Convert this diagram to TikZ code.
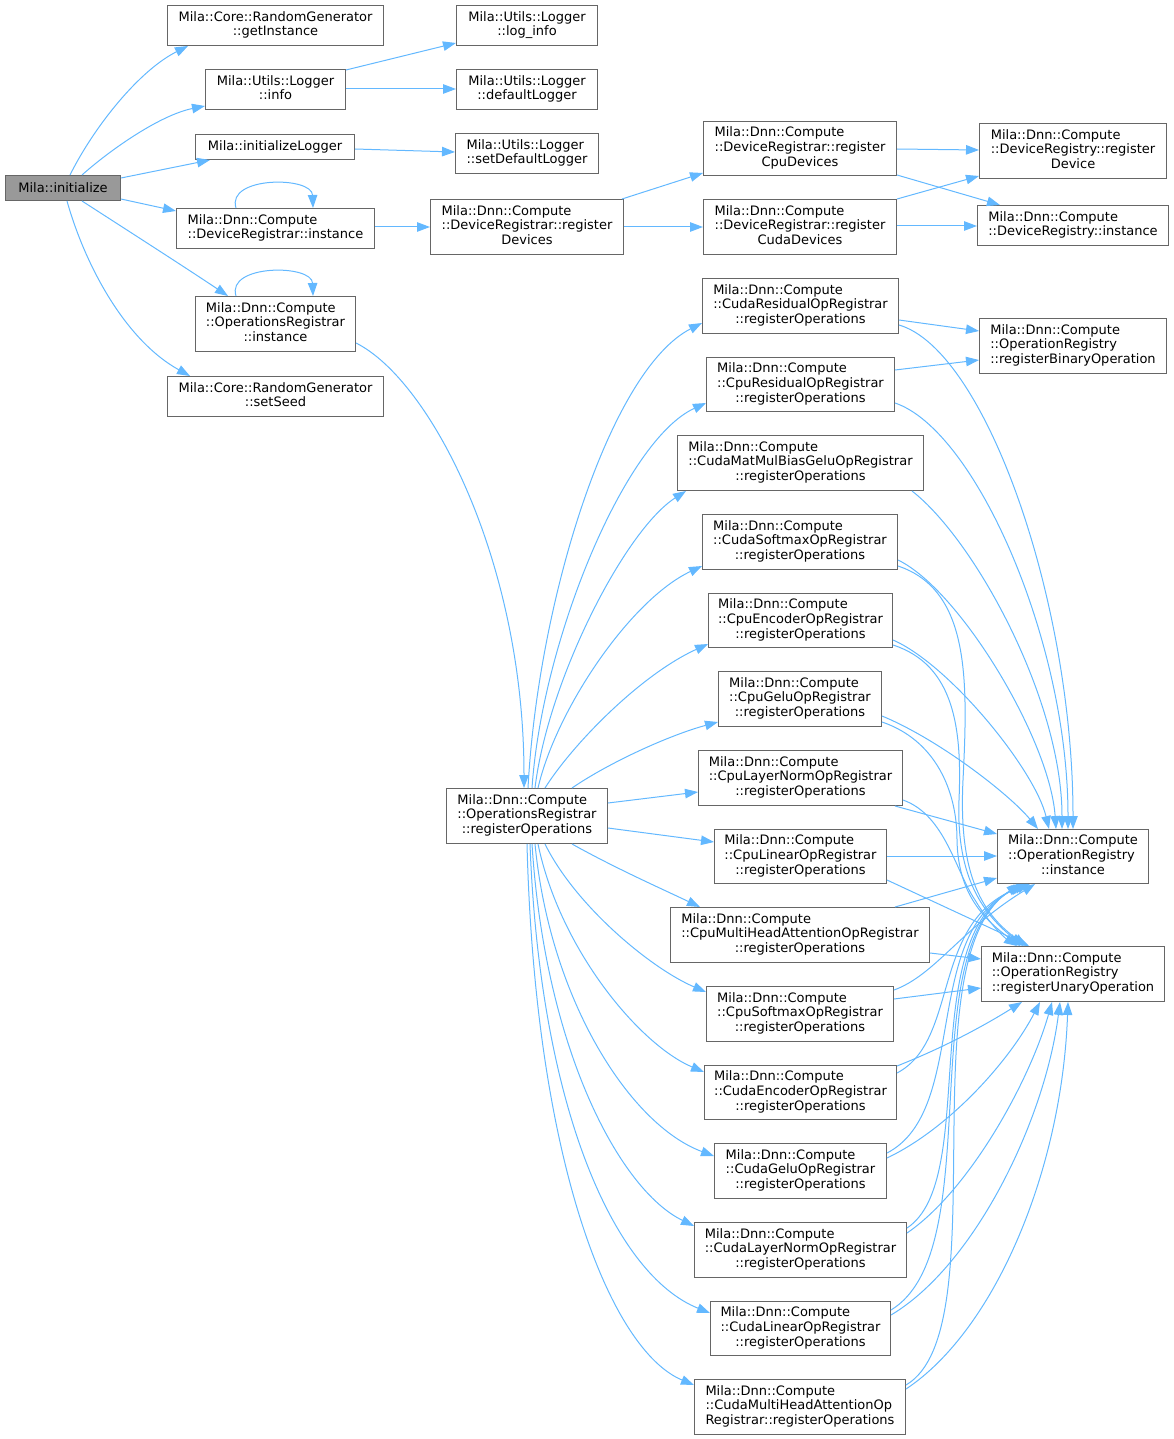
\documentclass[tikz,border=0pt]{standalone}
\usepackage{fontspec}
\setmainfont{DejaVu Sans}
\usetikzlibrary{arrows.meta}
\definecolor{edgeblue}{HTML}{63B8FF}
\definecolor{boxborder}{HTML}{666666}
\definecolor{rootfill}{HTML}{999999}
\newcommand\LC[2]{\begin{tabular}{@{}l@{}}#1\\\multicolumn{1}{@{}c@{}}{#2}\end{tabular}}
\newcommand\LL[2]{\begin{tabular}{@{}l@{}}#1\\#2\end{tabular}}
\newcommand\LLC[3]{\begin{tabular}{@{}l@{}}#1\\#2\\\multicolumn{1}{@{}c@{}}{#3}\end{tabular}}
\begin{document}
\begin{tikzpicture}[x=1pt,y=-1pt,
  font=\fontsize{13}{14.7}\selectfont,
  box/.style={rectangle,draw=boxborder,line width=1pt,fill=white,inner sep=0pt,anchor=north west},
  cg/.style={draw=edgeblue,line width=1pt,-{Triangle[length=13pt,width=9.5pt]}}]
\useasboundingbox (0,0) rectangle (1173,1439);
% ---------- nodes ----------
\node[box,fill=rootfill,minimum width=115pt,minimum height=25pt] (init) at (5,175) {Mila::initialize};
\node[box,minimum width=216pt,minimum height=40pt] (getinst) at (167,5) {\LC{Mila::Core::RandomGenerator}{::getInstance}};
\node[box,minimum width=140pt,minimum height=40pt] (info) at (205,69) {\LC{Mila::Utils::Logger}{::info}};
\node[box,minimum width=159pt,minimum height=25pt] (initlog) at (195,134) {Mila::initializeLogger};
\node[box,minimum width=198pt,minimum height=40pt] (devinst) at (176,208) {\LL{Mila::Dnn::Compute}{::DeviceRegistrar::instance}};
\node[box,minimum width=160pt,minimum height=55pt] (opsinst) at (195,296) {\LLC{Mila::Dnn::Compute}{::OperationsRegistrar}{::instance}};
\node[box,minimum width=216pt,minimum height=40pt] (setseed) at (167,376) {\LC{Mila::Core::RandomGenerator}{::setSeed}};
\node[box,minimum width=141pt,minimum height=40pt] (loginfo) at (456,5) {\LC{Mila::Utils::Logger}{::log\_info}};
\node[box,minimum width=141pt,minimum height=40pt] (deflog) at (456,69) {\LC{Mila::Utils::Logger}{::defaultLogger}};
\node[box,minimum width=143pt,minimum height=40pt] (setdeflog) at (455,133) {\LC{Mila::Utils::Logger}{::setDefaultLogger}};
\node[box,minimum width=193pt,minimum height=55pt] (regdev) at (430,199) {\LLC{Mila::Dnn::Compute}{::DeviceRegistrar::register}{Devices}};
\node[box,minimum width=193pt,minimum height=54pt] (cpudev) at (703,121) {\LLC{Mila::Dnn::Compute}{::DeviceRegistrar::register}{CpuDevices}};
\node[box,minimum width=193pt,minimum height=55pt] (cudadev) at (703,199) {\LLC{Mila::Dnn::Compute}{::DeviceRegistrar::register}{CudaDevices}};
\node[box,minimum width=187pt,minimum height=55pt] (regdevice) at (979,123) {\LLC{Mila::Dnn::Compute}{::DeviceRegistry::register}{Device}};
\node[box,minimum width=191pt,minimum height=40pt] (devreginst) at (977,205) {\LL{Mila::Dnn::Compute}{::DeviceRegistry::instance}};
\node[box,minimum width=187pt,minimum height=55pt] (regbin) at (979,318) {\LLC{Mila::Dnn::Compute}{::OperationRegistry}{::registerBinaryOperation}};
\node[box,minimum width=161pt,minimum height=55pt] (regops) at (446,788) {\LLC{Mila::Dnn::Compute}{::OperationsRegistrar}{::registerOperations}};
\node[box,minimum width=196pt,minimum height=55pt] (r1) at (702,278) {\LLC{Mila::Dnn::Compute}{::CudaResidualOpRegistrar}{::registerOperations}};
\node[box,minimum width=188pt,minimum height=54pt] (r2) at (706,357) {\LLC{Mila::Dnn::Compute}{::CpuResidualOpRegistrar}{::registerOperations}};
\node[box,minimum width=246pt,minimum height=55pt] (r3) at (677,435) {\LLC{Mila::Dnn::Compute}{::CudaMatMulBiasGeluOpRegistrar}{::registerOperations}};
\node[box,minimum width=195pt,minimum height=55pt] (r4) at (702,514) {\LLC{Mila::Dnn::Compute}{::CudaSoftmaxOpRegistrar}{::registerOperations}};
\node[box,minimum width=184pt,minimum height=54pt] (r5) at (708,593) {\LLC{Mila::Dnn::Compute}{::CpuEncoderOpRegistrar}{::registerOperations}};
\node[box,minimum width=163pt,minimum height=55pt] (r6) at (718,671) {\LLC{Mila::Dnn::Compute}{::CpuGeluOpRegistrar}{::registerOperations}};
\node[box,minimum width=204pt,minimum height=55pt] (r7) at (698,750) {\LLC{Mila::Dnn::Compute}{::CpuLayerNormOpRegistrar}{::registerOperations}};
\node[box,minimum width=172pt,minimum height=54pt] (r8) at (714,829) {\LLC{Mila::Dnn::Compute}{::CpuLinearOpRegistrar}{::registerOperations}};
\node[box,minimum width=259pt,minimum height=55pt] (r9) at (670,907) {\LLC{Mila::Dnn::Compute}{::CpuMultiHeadAttentionOpRegistrar}{::registerOperations}};
\node[box,minimum width=187pt,minimum height=55pt] (r10) at (706,986) {\LLC{Mila::Dnn::Compute}{::CpuSoftmaxOpRegistrar}{::registerOperations}};
\node[box,minimum width=192pt,minimum height=54pt] (r11) at (704,1065) {\LLC{Mila::Dnn::Compute}{::CudaEncoderOpRegistrar}{::registerOperations}};
\node[box,minimum width=172pt,minimum height=55pt] (r12) at (714,1143) {\LLC{Mila::Dnn::Compute}{::CudaGeluOpRegistrar}{::registerOperations}};
\node[box,minimum width=212pt,minimum height=55pt] (r13) at (694,1222) {\LLC{Mila::Dnn::Compute}{::CudaLayerNormOpRegistrar}{::registerOperations}};
\node[box,minimum width=180pt,minimum height=54pt] (r14) at (710,1301) {\LLC{Mila::Dnn::Compute}{::CudaLinearOpRegistrar}{::registerOperations}};
\node[box,minimum width=211pt,minimum height=55pt] (r15) at (694,1379) {\LLC{Mila::Dnn::Compute}{::CudaMultiHeadAttentionOp}{Registrar::registerOperations}};
\node[box,minimum width=151pt,minimum height=54pt] (opinst) at (997,829) {\LLC{Mila::Dnn::Compute}{::OperationRegistry}{::instance}};
\node[box,minimum width=183pt,minimum height=55pt] (regun) at (981,946) {\LLC{Mila::Dnn::Compute}{::OperationRegistry}{::registerUnaryOperation}};
% ---------- edges from initialize ----------
\draw[cg] (70,0 |- init.north) .. controls (95,125) and (140,70) .. (188,0 |- getinst.south);
\draw[cg] (82,0 |- init.north) .. controls (110,150) and (160,115) .. (info.west |- 0,106);
\draw[cg] (init.east |- 0,178) -- (210,0 |- initlog.south);
\draw[cg] (init.east |- 0,199) -- (devinst.west |- 0,211);
\draw[cg] (82,0 |- init.south) .. controls (130,232) and (180,264) .. (228,0 |- opsinst.north);
\draw[cg] (67,0 |- init.south) .. controls (85,265) and (125,340) .. (190,0 |- setseed.north);
% self loops
\draw[cg] (236,0 |- devinst.north) .. controls (226,176) and (312,176) .. (313,0 |- devinst.north);
\draw[cg] (236,0 |- opsinst.north) .. controls (226,264) and (312,264) .. (313,0 |- opsinst.north);
% logger / device edges
\draw[cg] (info.east |- 0,70) -- (loginfo.west |- 0,43);
\draw[cg] (info.east |- 0,89) -- (deflog.west |- 0,89);
\draw[cg] (initlog.east |- 0,149) -- (setdeflog.west |- 0,152);
\draw[cg] (devinst.east |- 0,227) -- (regdev.west |- 0,227);
\draw[cg] (622,0 |- regdev.north) -- (cpudev.west |- 0,173);
\draw[cg] (regdev.east |- 0,227) -- (cudadev.west |- 0,227);
\draw[cg] (cpudev.east |- 0,149) -- (regdevice.west |- 0,150);
\draw[cg] (cpudev.east |- 0,175) -- (1000,0 |- devreginst.north);
\draw[cg] (cudadev.east |- 0,199) -- (regdevice.west |- 0,176);
\draw[cg] (cudadev.east |- 0,226) -- (devreginst.west |- 0,226);
% operations registrar
\draw[cg] (opsinst.east |- 0,343) .. controls (430,380) and (524,560) .. (524,0 |- regops.north);
\draw[cg] (528,0 |- regops.north) .. controls (538,600) and (610,370) .. (r1.west |- 0,323);
\draw[cg] (532,0 |- regops.north) .. controls (542,640) and (625,440) .. (r2.west |- 0,403);
\draw[cg] (535,0 |- regops.north) .. controls (548,680) and (625,530) .. (686,0 |- r3.south);
\draw[cg] (538,0 |- regops.north) .. controls (556,710) and (630,600) .. (r4.west |- 0,566);
\draw[cg] (545,0 |- regops.north) .. controls (572,745) and (640,675) .. (r5.west |- 0,644);
\draw[cg] (572,0 |- regops.north) .. controls (610,762) and (670,735) .. (r6.west |- 0,722);
\draw[cg] (regops.east |- 0,803) -- (r7.west |- 0,792);
\draw[cg] (regops.east |- 0,828) -- (r8.west |- 0,842);
\draw[cg] (572,0 |- regops.south) .. controls (615,868) and (660,888) .. (700,0 |- r9.north);
\draw[cg] (545,0 |- regops.south) .. controls (575,905) and (650,968) .. (r10.west |- 0,992);
\draw[cg] (538,0 |- regops.south) .. controls (560,950) and (640,1045) .. (r11.west |- 0,1072);
\draw[cg] (535,0 |- regops.south) .. controls (550,1000) and (630,1125) .. (r12.west |- 0,1156);
\draw[cg] (532,0 |- regops.south) .. controls (545,1050) and (620,1190) .. (r13.west |- 0,1226);
\draw[cg] (530,0 |- regops.south) .. controls (540,1110) and (615,1275) .. (r14.west |- 0,1313);
\draw[cg] (527,0 |- regops.south) .. controls (535,1160) and (610,1350) .. (r15.west |- 0,1385);
% to registerBinaryOperation
\draw[cg] (r1.east |- 0,320) -- (regbin.west |- 0,331);
\draw[cg] (r2.east |- 0,370) -- (regbin.west |- 0,360);
% to OperationRegistry::instance (top)
\draw[cg] (r1.east |- 0,325) .. controls (985,350) and (1073,600) .. (1073,0 |- opinst.north);
\draw[cg] (r2.east |- 0,403) .. controls (975,430) and (1068,640) .. (1068,0 |- opinst.north);
\draw[cg] (912,0 |- r3.south) .. controls (975,540) and (1062,700) .. (1062,0 |- opinst.north);
\draw[cg] (r4.east |- 0,560) .. controls (960,590) and (1050,740) .. (1056,0 |- opinst.north);
\draw[cg] (r5.east |- 0,640) .. controls (950,665) and (1035,770) .. (1049,0 |- opinst.north);
\draw[cg] (r6.east |- 0,716) .. controls (940,740) and (1010,795) .. (1038,0 |- opinst.north);
% to OperationRegistry::instance (left)
\draw[cg] (895,0 |- r7.south) -- (opinst.west |- 0,834);
\draw[cg] (r8.east |- 0,856) -- (opinst.west |- 0,856);
\draw[cg] (895,0 |- r9.north) -- (opinst.west |- 0,878);
% to OperationRegistry::instance (bottom)
\draw[cg] (r10.east |- 0,990) .. controls (935,975) and (960,930) .. (1035,0 |- opinst.south);
\draw[cg] (r11.east |- 0,1073) .. controls (960,1040) and (930,920) .. (1030,0 |- opinst.south);
\draw[cg] (r12.east |- 0,1153) .. controls (970,1110) and (920,930) .. (1027,0 |- opinst.south);
\draw[cg] (r13.east |- 0,1228) .. controls (980,1180) and (915,940) .. (1024,0 |- opinst.south);
\draw[cg] (r14.east |- 0,1310) .. controls (990,1250) and (910,950) .. (1022,0 |- opinst.south);
\draw[cg] (r15.east |- 0,1385) .. controls (1000,1330) and (905,960) .. (1020,0 |- opinst.south);
% to registerUnaryOperation (top)
\draw[cg] (r4.east |- 0,566) .. controls (970,590) and (968,680) .. (963,780) .. controls (958,880) and (985,915) .. (1026,0 |- regun.north);
\draw[cg] (r5.east |- 0,645) .. controls (955,665) and (962,730) .. (959,800) .. controls (956,880) and (985,915) .. (1023,0 |- regun.north);
\draw[cg] (r6.east |- 0,722) .. controls (935,740) and (957,790) .. (957,840) .. controls (958,895) and (985,920) .. (1020,0 |- regun.north);
\draw[cg] (r7.east |- 0,800) .. controls (945,815) and (955,870) .. (975,900) .. controls (990,925) and (1005,938) .. (1017,0 |- regun.north);
\draw[cg] (r8.east |- 0,880) -- (1029,0 |- regun.north);
% to registerUnaryOperation (left)
\draw[cg] (r9.east |- 0,953) -- (regun.west |- 0,959);
\draw[cg] (r10.east |- 0,999) -- (regun.west |- 0,988);
% to registerUnaryOperation (bottom)
\draw[cg] (r11.east |- 0,1066) .. controls (950,1045) and (990,1022) .. (1022,0 |- regun.south);
\draw[cg] (r12.east |- 0,1158) .. controls (950,1128) and (1010,1060) .. (1040,0 |- regun.south);
\draw[cg] (r13.east |- 0,1233) .. controls (970,1190) and (1030,1080) .. (1052,0 |- regun.south);
\draw[cg] (r14.east |- 0,1315) .. controls (975,1265) and (1045,1120) .. (1060,0 |- regun.south);
\draw[cg] (r15.east |- 0,1389) .. controls (995,1330) and (1062,1170) .. (1068,0 |- regun.south);
\end{tikzpicture}
\end{document}
